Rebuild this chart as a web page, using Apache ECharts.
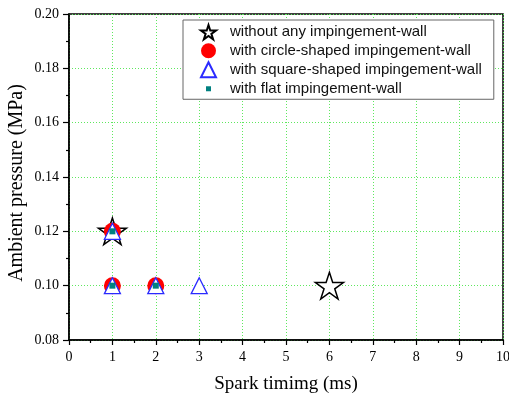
<!DOCTYPE html>
<html>
<head>
<meta charset="utf-8">
<script src="https://cdn.jsdelivr.net/npm/echarts@6/dist/echarts.min.js"></script>
<style>html,body{margin:0;padding:0;background:#fff}#c{width:509px;height:396px}</style>
</head>
<body>
<div id="c"></div>
<script>
var seriesNames = ['without any impingement-wall', 'with circle-shaped impingement-wall', 'with square-shaped impingement-wall', 'with flat impingement-wall'];
var withoutWall = [[1, 0.12], [6, 0.10]];
var circleWall = [[1, 0.12], [1, 0.10], [2, 0.10]];
var squareWall = [[1, 0.12], [1, 0.10], [2, 0.10], [3, 0.10]];
var flatWall = [[1, 0.12], [1, 0.10], [2, 0.10]];
var xTicks = [0, 1, 2, 3, 4, 5, 6, 7, 8, 9, 10];
var yTicks = [0.08, 0.10, 0.12, 0.14, 0.16, 0.18, 0.20];

var starPath = 'path://M50,0 L61.23,34.55 L97.55,34.55 L68.16,55.9 L79.39,90.45 L50,69.1 L20.61,90.45 L31.84,55.9 L2.45,34.55 L38.77,34.55 Z';
var smallSquare = 'path://M0,0M15,15M5,5L10,5L10,10L5,10Z';
var serif = '"Liberation Serif", "Times New Roman", serif';
var sans = '"Liberation Sans", Arial, sans-serif';
var gridGreen = '#5ee85e';

var chart = echarts.init(document.getElementById('c'), null, {renderer: 'canvas'});
chart.setOption({
  animation: false,
  backgroundColor: '#fff',
  grid: {left: 69, right: 6, top: 14, bottom: 56, outerBoundsMode: 'none', containLabel: false,
         show: true, borderColor: '#000', borderWidth: 1.5, backgroundColor: 'transparent'},
  legend: {
    orient: 'vertical', left: 183, top: 20,
    padding: [4, 12, 3, 17],
    itemWidth: 15, itemHeight: 15, itemGap: 3,
    borderColor: '#666', borderWidth: 1, backgroundColor: '#fff',
    textStyle: {fontFamily: sans, fontSize: 15, color: '#111', padding: [0, 0, 0, 9]},
    data: [
      {name: seriesNames[0], icon: starPath},
      {name: seriesNames[1], icon: 'circle'},
      {name: seriesNames[2], icon: 'triangle'},
      {name: seriesNames[3], icon: smallSquare}
    ]
  },
  xAxis: {
    type: 'value', min: xTicks[0], max: xTicks[xTicks.length - 1], interval: 1,
    name: 'Spark timimg (ms)', nameLocation: 'middle', nameGap: 35, nameMoveOverlap: false,
    nameTextStyle: {fontFamily: serif, fontSize: 19, color: '#000'},
    axisLine: {show: true, lineStyle: {color: '#000', width: 1.5}},
    axisTick: {show: true, length: 5, lineStyle: {color: '#000', width: 1.2}},
    minorTick: {show: true, splitNumber: 2, length: 3, lineStyle: {color: '#000', width: 1.2}},
    axisLabel: {fontFamily: serif, fontSize: 14, color: '#000', margin: 10},
    splitLine: {show: true, lineStyle: {color: gridGreen, type: [1, 2], width: 1}}
  },
  yAxis: {
    type: 'value', min: yTicks[0], max: yTicks[yTicks.length - 1], interval: 0.02,
    name: 'Ambient pressure (MPa)', nameLocation: 'middle', nameGap: 42, nameMoveOverlap: false,
    nameTextStyle: {fontFamily: serif, fontSize: 20, color: '#000', padding: [0, 12, 0, 0]},
    axisLine: {show: true, lineStyle: {color: '#000', width: 1.5}},
    axisTick: {show: true, length: 6, lineStyle: {color: '#000', width: 1.2}},
    minorTick: {show: true, splitNumber: 2, length: 3, lineStyle: {color: '#000', width: 1.2}},
    axisLabel: {fontFamily: serif, fontSize: 14, color: '#000', margin: 10, formatter: function (v) { return v.toFixed(2); }},
    splitLine: {show: true, lineStyle: {color: gridGreen, type: [1, 2], width: 1}}
  },
  series: [
    {name: seriesNames[0], type: 'scatter', data: withoutWall, symbol: starPath, symbolSize: 28, symbolKeepAspect: true,
     itemStyle: {color: '#fff', borderColor: '#000', borderWidth: 1.5, opacity: 1}},
    {name: seriesNames[1], type: 'scatter', data: circleWall, symbol: 'circle', symbolSize: 17,
     itemStyle: {color: '#ff0000', opacity: 1}},
    {name: seriesNames[2], type: 'scatter', data: squareWall, symbol: 'triangle', symbolSize: 16,
     itemStyle: {color: '#fff', borderColor: '#2a2aff', borderWidth: 1.3, opacity: 1}},
    {name: seriesNames[3], type: 'scatter', data: flatWall, symbol: 'rect', symbolSize: 6,
     itemStyle: {color: '#008080', opacity: 1}}
  ]
});
</script>
</body>
</html>
